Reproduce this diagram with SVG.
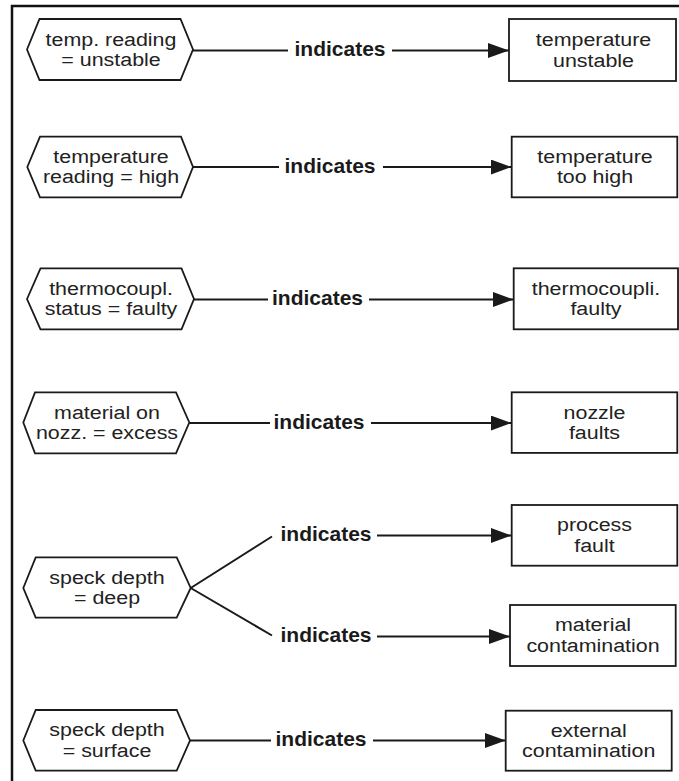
<svg xmlns="http://www.w3.org/2000/svg" width="679" height="781" viewBox="0 0 679 781">
<defs>
<style>
.frame{fill:none;stroke:#111;stroke-width:2.5}
.node{fill:#fff;stroke:#1a1a1a;stroke-width:1.8}
.t{font-family:"Liberation Sans",Arial,sans-serif;font-size:18px;fill:#222;text-anchor:middle}
.lbl{font-family:"Liberation Sans",Arial,sans-serif;font-size:21px;font-weight:bold;fill:#1a1a1a;text-anchor:middle}
.c{fill:none;stroke:#1a1a1a;stroke-width:2}
</style>
<marker id="ah" markerUnits="userSpaceOnUse" markerWidth="22" markerHeight="16" refX="21" refY="7.5" orient="auto">
<path d="M0,0 L21,7.5 L0,15 z" fill="#1a1a1a"/>
</marker>
</defs>
<rect width="679" height="781" fill="#fff"/>
<rect class="frame" x="12" y="6" width="700" height="800"/>

<g id="connectors">
<path class="c" d="M193,50.5 H288"/>
<path class="c" d="M392,50.5 H509" marker-end="url(#ah)"/>
<text class="lbl" x="340" y="56">indicates</text>

<path class="c" d="M193,167 H279"/>
<path class="c" d="M383,167 H511.7" marker-end="url(#ah)"/>
<text class="lbl" x="330" y="172.5">indicates</text>

<path class="c" d="M194,299.5 H268"/>
<path class="c" d="M369,299.5 H513.7" marker-end="url(#ah)"/>
<text class="lbl" x="317.5" y="305">indicates</text>

<path class="c" d="M189.3,423 H270"/>
<path class="c" d="M371,423 H511.7" marker-end="url(#ah)"/>
<text class="lbl" x="319" y="428.5">indicates</text>

<path class="c" d="M190.7,588 L272,536.5"/>
<path class="c" d="M377,535.5 H511.7" marker-end="url(#ah)"/>
<text class="lbl" x="326" y="541">indicates</text>

<path class="c" d="M190.7,588 L272,635.5"/>
<path class="c" d="M377,636.5 H510" marker-end="url(#ah)"/>
<text class="lbl" x="326" y="642">indicates</text>

<path class="c" d="M190,740.5 H271"/>
<path class="c" d="M373,740.5 H505.7" marker-end="url(#ah)"/>
<text class="lbl" x="321" y="746">indicates</text>
</g>

<g id="n1">
<polygon class="node" points="27,49.5 39.5,19 180.5,19 193,49.5 180.5,80 39.5,80"/>
<text class="t" transform="translate(111 45.5) scale(1.19 1)">temp. reading</text>
<text class="t" transform="translate(111 66) scale(1.19 1)">= unstable</text>
</g>
<g id="b1">
<rect class="node" x="509" y="19" width="167" height="62"/>
<text class="t" transform="translate(593.5 46) scale(1.19 1)">temperature</text>
<text class="t" transform="translate(593.5 66.5) scale(1.19 1)">unstable</text>
</g>

<g id="n2">
<polygon class="node" points="27.3,167 40,136.7 181,136.7 193,167 181,197.3 40,197.3"/>
<text class="t" transform="translate(111 162.5) scale(1.19 1)">temperature</text>
<text class="t" transform="translate(111 183) scale(1.19 1)">reading = high</text>
</g>
<g id="b2">
<rect class="node" x="511.7" y="136.7" width="165.6" height="60.6"/>
<text class="t" transform="translate(595 162.5) scale(1.19 1)">temperature</text>
<text class="t" transform="translate(595 183) scale(1.19 1)">too high</text>
</g>

<g id="n3">
<polygon class="node" points="27,299 40.5,268.3 181.5,268.3 194,299 181.5,329.3 40.5,329.3"/>
<text class="t" transform="translate(111 294.5) scale(1.19 1)">thermocoupl.</text>
<text class="t" transform="translate(111 315) scale(1.19 1)">status = faulty</text>
</g>
<g id="b3">
<rect class="node" x="513.7" y="268.3" width="164.3" height="61"/>
<text class="t" transform="translate(596 294.5) scale(1.19 1)">thermocoupli.</text>
<text class="t" transform="translate(596 315) scale(1.19 1)">faulty</text>
</g>

<g id="n4">
<polygon class="node" points="23.3,422.5 35,392.3 176,392.3 189.3,422.5 176,453.3 35,453.3"/>
<text class="t" transform="translate(107 418.5) scale(1.19 1)">material on</text>
<text class="t" transform="translate(107 439) scale(1.19 1)">nozz. = excess</text>
</g>
<g id="b4">
<rect class="node" x="511.7" y="392.3" width="165.6" height="60.6"/>
<text class="t" transform="translate(594.5 418.5) scale(1.19 1)">nozzle</text>
<text class="t" transform="translate(594.5 439) scale(1.19 1)">faults</text>
</g>

<g id="n5">
<polygon class="node" points="23.3,588 35.7,557.3 176.7,557.3 190.7,588 176.7,617.7 35.7,617.7"/>
<text class="t" transform="translate(107 583.5) scale(1.19 1)">speck depth</text>
<text class="t" transform="translate(107 604) scale(1.19 1)">= deep</text>
</g>
<g id="b5">
<rect class="node" x="511.7" y="505" width="165.6" height="60.7"/>
<text class="t" transform="translate(594.5 531) scale(1.19 1)">process</text>
<text class="t" transform="translate(594.5 551.5) scale(1.19 1)">fault</text>
</g>
<g id="b6">
<rect class="node" x="510" y="605" width="165.7" height="61"/>
<text class="t" transform="translate(593 631) scale(1.19 1)">material</text>
<text class="t" transform="translate(593 651.5) scale(1.19 1)">contamination</text>
</g>

<g id="n6">
<polygon class="node" points="23.3,740.5 35.7,710 176.7,710 190,740.5 176.7,770.7 35.7,770.7"/>
<text class="t" transform="translate(107 736) scale(1.19 1)">speck depth</text>
<text class="t" transform="translate(107 756.5) scale(1.19 1)">= surface</text>
</g>
<g id="b7">
<rect class="node" x="505.7" y="710.7" width="166" height="60"/>
<text class="t" transform="translate(588.7 736.5) scale(1.19 1)">external</text>
<text class="t" transform="translate(588.7 757) scale(1.19 1)">contamination</text>
</g>
</svg>
